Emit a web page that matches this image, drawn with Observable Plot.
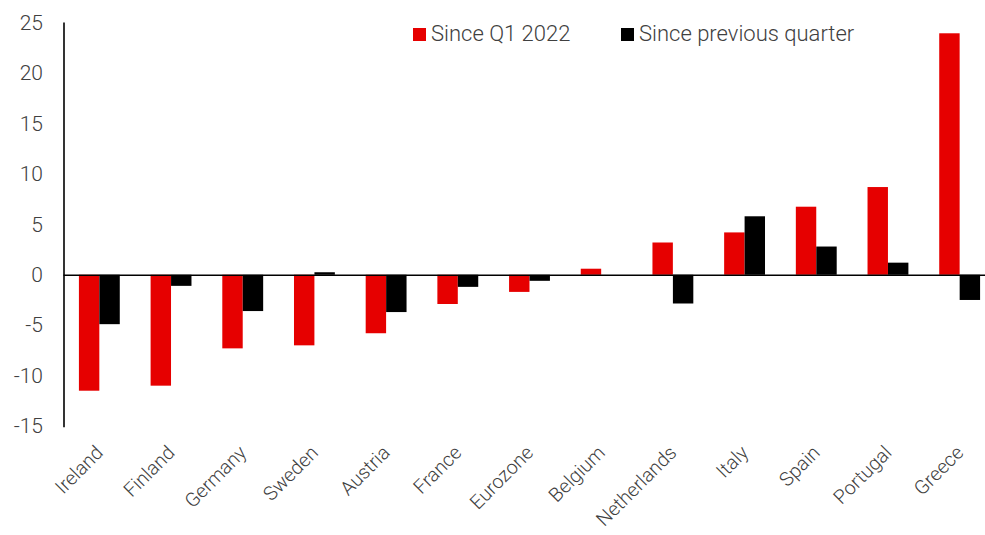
<!DOCTYPE html>
<html><head><meta charset="utf-8">
<script src="https://cdn.jsdelivr.net/npm/d3@7"></script>
<script src="https://cdn.jsdelivr.net/npm/@observablehq/plot@0.6"></script>
<style>
html,body{margin:0;padding:0;background:#fff;overflow:hidden;}
#wrap{position:relative;width:985px;height:535px;overflow:hidden;}
#wrap svg{position:absolute;left:0;top:0;}
.item{position:absolute;top:22px;font-family:Roboto,"Liberation Sans",sans-serif;font-weight:300;font-size:22px;color:#404040;display:flex;align-items:center;white-space:nowrap;line-height:24px;}
.sw{display:inline-block;width:13px;height:13px;margin-right:5px;}
</style></head><body><div id="wrap"></div>
<script>
const countries = ["Ireland","Finland","Germany","Sweden","Austria","France","Eurozone","Belgium","Netherlands","Italy","Spain","Portugal","Greece"];
const sinceQ12022 = [-11.5,-11.0,-7.3,-7.0,-5.8,-2.9,-1.7,0.6,3.2,4.2,6.75,8.7,23.95];
const sincePrevQuarter = [-4.9,-1.1,-3.6,0.25,-3.7,-1.2,-0.6,0,-2.85,5.8,2.8,1.2,-2.5];
const seriesNames = ["Since Q1 2022","Since previous quarter"];
const seriesColors = ["#e60000","#000000"];
const yTicks = [-15,-10,-5,0,5,10,15,20,25];

const red = countries.map((c,i)=>({country:c, value:sinceQ12022[i]}));
const blk = countries.map((c,i)=>({country:c, value:sincePrevQuarter[i]}));

const half = 20.45;
const chart = Plot.plot({
  width: 985,
  height: 535,
  marginLeft: 63.5,
  marginRight: -10.5,
  marginTop: 22.7,
  marginBottom: 109,
  style: {fontFamily: "Roboto, 'Liberation Sans', sans-serif", fontWeight: 300, color: "#404040", background: "#fff", overflow: "visible"},
  x: {domain: countries, paddingInner: 0.43, paddingOuter: 0.215, round: false},
  y: {domain: [-15, 25]},
  marks: [
    Plot.barY(red, {x: "country", y: "value", fill: seriesColors[0], insetRight: half}),
    Plot.barY(blk, {x: "country", y: "value", fill: seriesColors[1], insetLeft: half}),
    Plot.ruleY([0], {stroke: "#000", strokeWidth: 1.6}),
    Plot.frame({anchor: "left", stroke: "#000", strokeWidth: 1.6}),
    Plot.axisY({ticks: yTicks, tickSize: 0, tickPadding: 21, tickFormat: d => String(d), fontSize: 21, label: null}),
    Plot.axisX({tickSize: 0, tickRotate: -45, tickPadding: 23, fontSize: 19.5, label: null})
  ]
});
const wrap = document.getElementById("wrap");
wrap.appendChild(chart);
const pos = [413, 621];
seriesNames.forEach((n,i)=>{
  const d = document.createElement("div");
  d.className = "item";
  d.style.left = pos[i] + "px";
  d.innerHTML = `<span class="sw" style="background:${seriesColors[i]}"></span>${n}`;
  wrap.appendChild(d);
});
</script></body></html>
